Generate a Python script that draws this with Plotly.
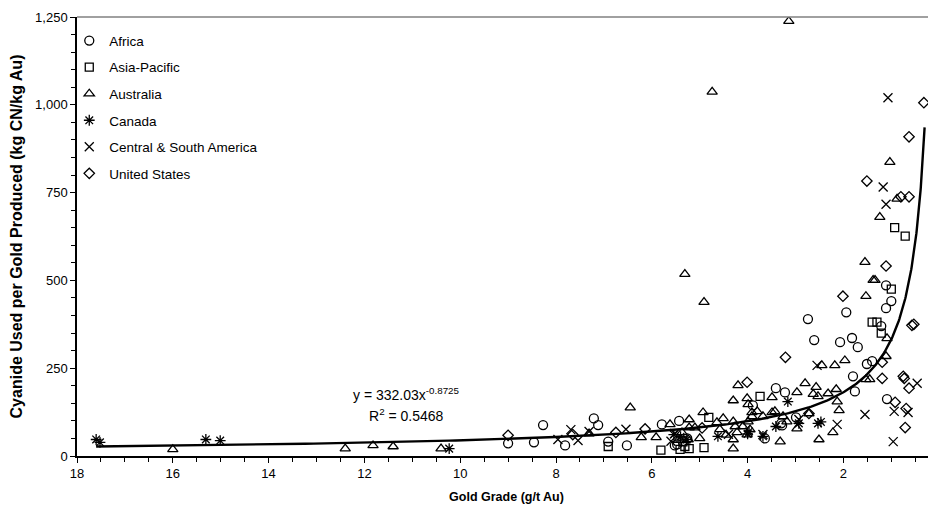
import numpy as np
import plotly.graph_objects as go

# ---------------- data ----------------
africa_x = [9.0, 8.46, 8.27, 7.81, 7.21, 7.12, 6.91, 6.52, 5.79, 5.52, 5.47, 5.43, 5.26, 3.89, 3.64, 3.41, 3.30, 3.28,
            3.22, 2.99, 2.74, 2.61, 2.07, 1.94, 1.82, 1.80, 1.76, 1.70, 1.51, 1.40, 1.21, 1.11, 1.11, 1.09, 1.00]
africa_y = [36, 39, 88, 30, 107, 88, 41, 30, 90, 30, 33, 100, 50, 144, 50, 193, 93, 87,
            181, 110, 390, 330, 324, 409, 336, 227, 184, 310, 262, 270, 370, 421, 486, 162, 441]

asia_x = [6.91, 5.81, 5.41, 5.31, 5.22, 5.35, 4.91, 4.81, 3.74, 1.40, 1.30, 1.21, 1.00, 0.93, 0.71]
asia_y = [27, 17, 19, 27, 21, 40, 24, 110, 170, 381, 381, 350, 475, 650, 626]

australia_x = [16.0, 12.4, 11.82, 11.40, 10.40, 7.31, 6.45, 6.22, 5.91, 5.62, 5.37, 5.24, 5.22, 5.22, 5.31, 5.10,
               5.00, 4.91, 4.93, 4.74, 4.64, 4.51, 4.58, 4.30, 4.30, 4.30, 4.30, 4.26, 4.22, 4.20, 4.10, 4.01,
               3.99, 3.99, 4.01, 3.91, 3.91, 3.80, 3.68, 3.49, 3.49, 3.43, 3.32, 3.26, 3.18, 3.14, 2.97, 2.97,
               2.80, 2.72, 2.63, 2.57, 2.53, 2.51, 2.45, 2.32, 2.22, 2.18, 2.15, 2.13, 2.09, 1.97, 1.55, 1.53,
               1.53, 1.45, 1.38, 1.34, 1.24, 1.11, 1.09, 1.03, 0.88, 4.45, 3.95, 5.45]
australia_y = [19, 21, 30, 27, 21, 64, 138, 53, 53, 90, 67, 47, 104, 81, 518, 81,
               50, 438, 124, 1037, 96, 107, 76, 158, 98, 47, 21, 84, 67, 201, 84, 164,
               147, 98, 61, 124, 113, 127, 113, 167, 124, 127, 41, 113, 98, 1238, 181, 78,
               207, 121, 176, 196, 170, 47, 258, 178, 67, 258, 190, 155, 130, 272, 552, 455,
               218, 218, 501, 501, 680, 284, 335, 837, 732, 60, 75, 45]

canada_x = [17.60, 17.52, 15.31, 15.01, 10.23, 5.54, 5.27, 5.40, 4.62, 4.00, 3.97, 3.68, 3.41, 3.16, 2.93, 2.53, 2.47]
canada_y = [47, 39, 47, 44, 21, 61, 47, 55, 56, 63, 70, 56, 84, 155, 93, 93, 97]

csa_x = [7.96, 7.69, 7.54, 7.31, 6.54, 5.52, 5.60, 4.40, 3.68, 2.93, 2.55, 2.13, 1.55, 1.17, 1.11, 1.07,
         0.96, 0.94, 0.65, 0.46]
csa_y = [47, 75, 44, 70, 76, 64, 42, 62, 61, 104, 258, 90, 118, 766, 717, 1020,
         41, 127, 124, 207]

us_x = [9.00, 7.65, 6.75, 6.14, 4.95, 4.01, 3.21, 2.72, 2.01, 1.51, 1.19, 1.19, 1.11, 0.92, 0.80, 0.75,
        0.73, 0.71, 0.69, 0.63, 0.63, 0.63, 0.57, 0.53, 0.32]
us_y = [59, 61, 67, 77, 80, 210, 281, 121, 455, 783, 267, 221, 541, 153, 738, 227,
        221, 81, 135, 909, 738, 193, 372, 375, 1006]

# power trend line coefficients (from chart label)
trend_a = 332.03
trend_b = -0.8725
trend_xmin = 0.305
trend_xmax = 17.6

x_ticks = [18, 16, 14, 12, 10, 8, 6, 4, 2, 0]
y_ticks = [0, 250, 500, 750, 1000, 1250]

# ---------------- figure ----------------
series = [
    ("Africa", africa_x, africa_y, "circle-open", 9),
    ("Asia-Pacific", asia_x, asia_y, "square-open", 8),
    ("Australia", australia_x, australia_y, "triangle-up-open", 9),
    ("Canada", canada_x, canada_y, "asterisk-open", 9),
    ("Central & South America", csa_x, csa_y, "x-thin-open", 9),
    ("United States", us_x, us_y, "diamond-open", 8),
]

FONT = "Liberation Sans, Arial, sans-serif"

fig = go.Figure()
for i, (name, xs, ys, sym, sz) in enumerate(series):
    fig.add_trace(go.Scatter(
        x=xs, y=ys, mode="markers", name=name, legendgroup=f"g{i}",
        marker=dict(symbol=sym, size=sz, color="black", line=dict(color="black", width=1.3)),
    ))

tx = np.geomspace(trend_xmin, trend_xmax, 300)
ty = trend_a * tx ** trend_b
fig.add_trace(go.Scatter(x=tx, y=ty, mode="lines", line=dict(color="black", width=2.4),
                         showlegend=False, hoverinfo="skip"))

fig.add_annotation(x=11.12, y=176, xref="x", yref="y",
                   text="y = 332.03x<sup>-0.8725</sup>", showarrow=False,
                   font=dict(family=FONT, size=14, color="black"))
fig.add_annotation(x=11.12, y=118, xref="x", yref="y",
                   text="R<sup>2</sup> = 0.5468", showarrow=False,
                   font=dict(family=FONT, size=14, color="black"))

fig.add_shape(type="line", xref="paper", yref="paper", x0=0, x1=1, y0=1, y1=1,
              line=dict(color="#808080", width=1.5))

# page has an 8px body margin, so the figure is sized to fill the visible 936x511 window
fig.update_layout(
    width=928, height=503,
    margin=dict(l=69, r=0, t=9, b=55),
    paper_bgcolor="white", plot_bgcolor="white",
    font=dict(family=FONT, size=13, color="black"),
    showlegend=True,
    legend=dict(x=-0.009, y=0.981, xanchor="left", yanchor="top",
                bgcolor="rgba(0,0,0,0)", font=dict(size=13.5, color="black"),
                tracegroupgap=6, traceorder="grouped", itemwidth=30),
)

fig.update_xaxes(
    range=[18, 0.067], autorange=False,
    tickvals=x_ticks, ticktext=[str(v) for v in x_ticks],
    ticks="outside", ticklen=5, tickwidth=1, tickcolor="black",
    minor=dict(dtick=0.5, tick0=0, ticks="outside", ticklen=4, tickcolor="black", tickwidth=1),
    showline=True, linecolor="black", linewidth=1.5,
    showgrid=False, zeroline=False,
    tickfont=dict(size=13),
    title=dict(text="<b>Gold Grade (g/t Au)</b>", font=dict(size=12.5), standoff=12),
)
fig.update_yaxes(
    range=[0, 1250], autorange=False,
    tickvals=y_ticks, tickformat=",",
    ticks="outside", ticklen=5, tickwidth=1, tickcolor="black",
    minor=dict(dtick=50, tick0=0, ticks="outside", ticklen=4, tickcolor="black", tickwidth=1),
    showline=True, linecolor="black", linewidth=1.5,
    showgrid=False, zeroline=False,
    tickfont=dict(size=13),
    title=dict(text="<b>Cyanide Used per Gold Produced (kg CN/kg Au)</b>", font=dict(size=16), standoff=10),
)

fig.write_html("out.html")
